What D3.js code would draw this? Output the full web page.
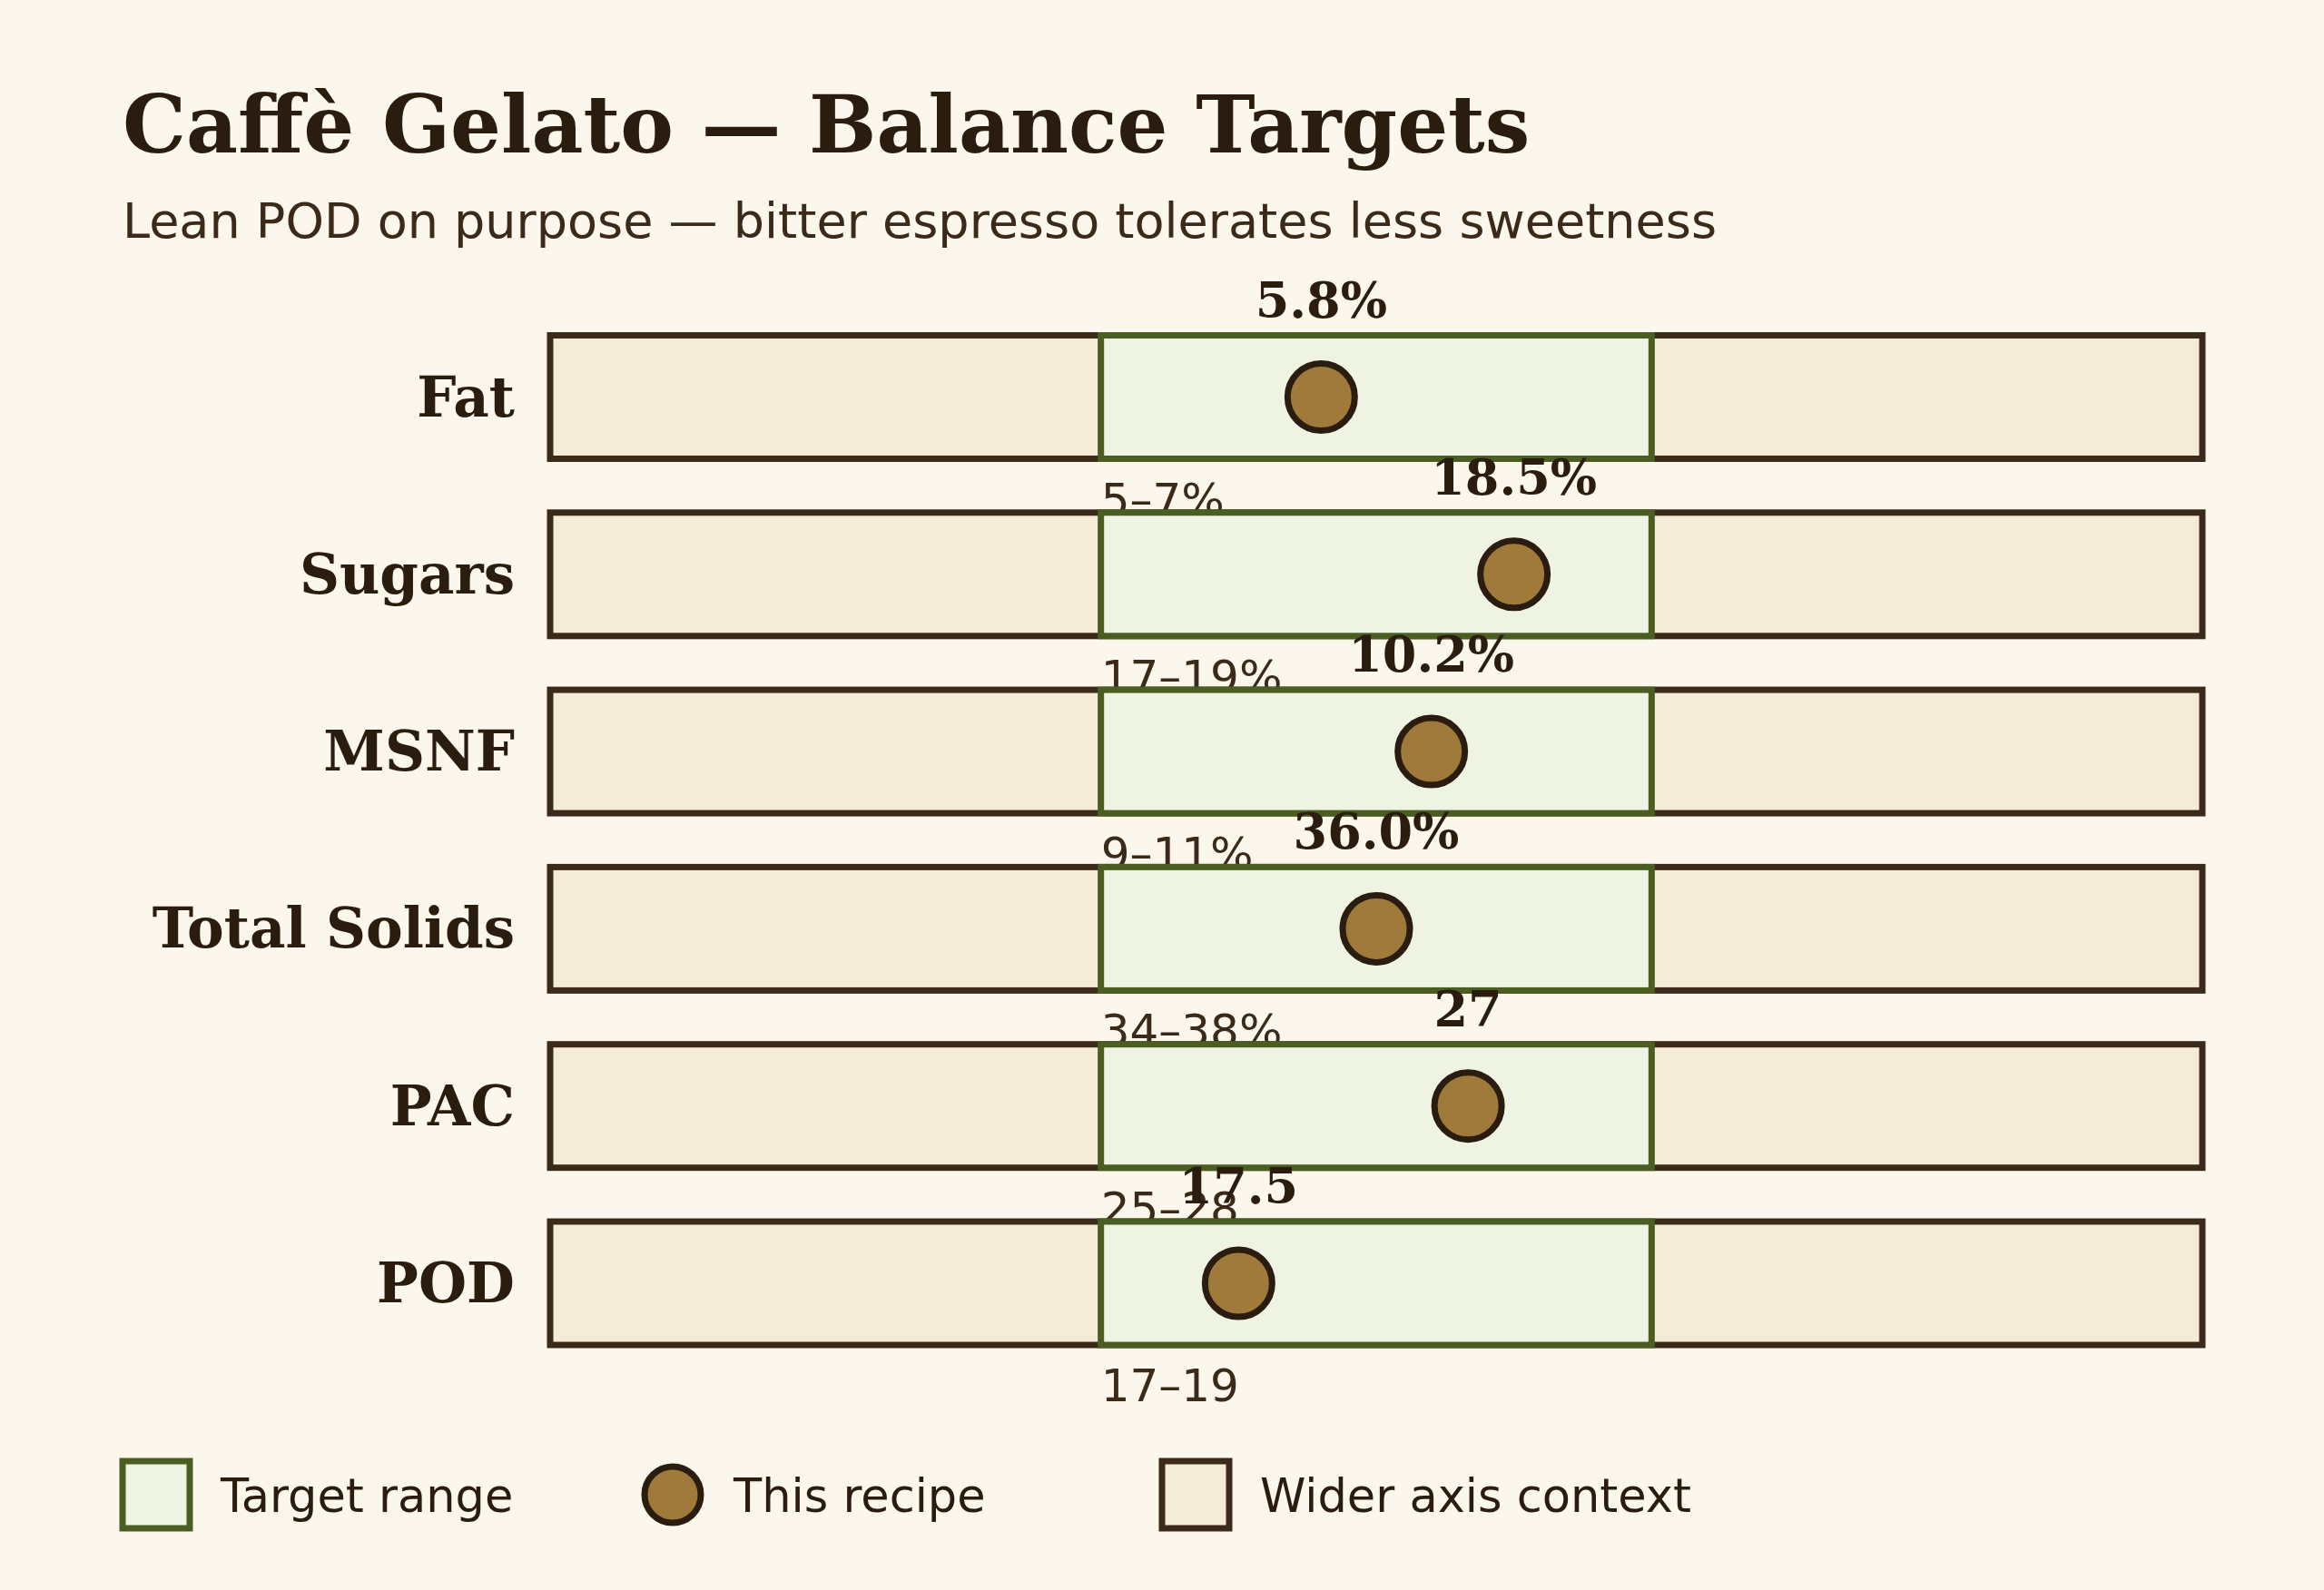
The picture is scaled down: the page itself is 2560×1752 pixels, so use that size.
<!DOCTYPE html>
<html>
<head>
<meta charset="utf-8">
<script src="https://cdn.jsdelivr.net/npm/d3@7"></script>
<style>
  html, body { margin: 0; padding: 0; background: #fbf7ec; }
  svg { display: block; }
</style>
</head>
<body>
<svg id="chart" width="2560" height="1752"></svg>
<script>
const categories = ["Fat", "Sugars", "MSNF", "Total Solids", "PAC", "POD"];
const values = [5.8, 18.5, 10.2, 36.0, 27, 17.5];
const valueLabels = ["5.8%", "18.5%", "10.2%", "36.0%", "27", "17.5"];
const targetLow = [5, 17, 9, 34, 25, 17];
const targetHigh = [7, 19, 11, 38, 28, 19];
const rangeLabels = ["5–7%", "17–19%", "9–11%", "34–38%", "25–28", "17–19"];
const axisMin = [3, 15, 7, 30, 22, 15];
const axisMax = [9, 21, 13, 42, 31, 21];
const legendLabels = ["Target range", "This recipe", "Wider axis context"];

const C = {
  bg: "#fbf7ec",
  track: "#f4ecd6",
  trackStroke: "#3b2a1a",
  target: "#eef3e3",
  targetStroke: "#4b5e22",
  dot: "#a07a3b",
  dotStroke: "#2a1d10",
  text: "#2a1d10",
  sub: "#3b2a1a"
};
const serif = "'DejaVu Serif', serif";
const sans = "'DejaVu Sans', sans-serif";

const svg = d3.select("#chart");
svg.append("rect").attr("width", 2560).attr("height", 1752).attr("fill", C.bg);

svg.append("text").attr("x", 135).attr("y", 168)
  .attr("font-family", serif).attr("font-weight", "bold").attr("font-size", 88)
  .attr("fill", C.text).text("Caffè Gelato — Balance Targets");
svg.append("text").attr("x", 135).attr("y", 262)
  .attr("font-family", sans).attr("font-size", 54)
  .attr("fill", C.sub).text("Lean POD on purpose — bitter espresso tolerates less sweetness");

const y = d3.scalePoint().domain(categories).range([437.5, 1414]);
const bandH = 136;
const x0 = 606, x1 = 2426;

const rows = categories.map((c, i) => ({
  cat: c, value: values[i], label: valueLabels[i], lo: targetLow[i], hi: targetHigh[i],
  range: rangeLabels[i],
  scale: d3.scaleLinear().domain([axisMin[i], axisMax[i]]).range([x0, x1])
}));

const g = svg.append("g");
const row = g.selectAll("g.row").data(rows).join("g").attr("class", "row")
  .attr("transform", d => `translate(0,${y(d.cat)})`);

row.append("rect")
  .attr("x", d => d.scale(d.scale.domain()[0]))
  .attr("width", d => d.scale(d.scale.domain()[1]) - d.scale(d.scale.domain()[0]))
  .attr("y", -bandH / 2).attr("height", bandH)
  .attr("fill", C.track).attr("stroke", C.trackStroke).attr("stroke-width", 7);

row.append("rect")
  .attr("x", d => d.scale(d.lo))
  .attr("width", d => d.scale(d.hi) - d.scale(d.lo))
  .attr("y", -bandH / 2).attr("height", bandH)
  .attr("fill", C.target).attr("stroke", C.targetStroke).attr("stroke-width", 7);

row.append("text")
  .attr("x", x0 - 39).attr("y", 21)
  .attr("text-anchor", "end")
  .attr("font-family", serif).attr("font-weight", "bold").attr("font-size", 61)
  .attr("fill", C.text).text(d => d.cat);

row.append("text")
  .attr("x", d => d.scale(d.lo)).attr("y", bandH / 2 + 62)
  .attr("font-family", sans).attr("font-size", 50)
  .attr("fill", C.sub).text(d => d.range);

row.append("circle")
  .attr("cx", d => d.scale(d.value)).attr("cy", 0).attr("r", 37)
  .attr("fill", C.dot).attr("stroke", C.dotStroke).attr("stroke-width", 7);

row.append("text")
  .attr("x", d => d.scale(d.value)).attr("y", -bandH / 2 - 20)
  .attr("text-anchor", "middle")
  .attr("font-family", serif).attr("font-weight", "bold").attr("font-size", 54)
  .attr("fill", C.text).text(d => d.label);

// Legend
const ly = 1647;
const leg = svg.append("g");
leg.append("rect").attr("x", 135).attr("y", ly - 37).attr("width", 74).attr("height", 74)
  .attr("fill", C.target).attr("stroke", C.targetStroke).attr("stroke-width", 7);
leg.append("text").attr("x", 243).attr("y", ly + 19)
  .attr("font-family", sans).attr("font-size", 51).attr("fill", C.text).text(legendLabels[0]);
leg.append("circle").attr("cx", 741).attr("cy", ly).attr("r", 31)
  .attr("fill", C.dot).attr("stroke", C.dotStroke).attr("stroke-width", 7);
leg.append("text").attr("x", 808).attr("y", ly + 19)
  .attr("font-family", sans).attr("font-size", 51).attr("fill", C.text).text(legendLabels[1]);
leg.append("rect").attr("x", 1280).attr("y", ly - 37).attr("width", 74).attr("height", 74)
  .attr("fill", C.track).attr("stroke", C.trackStroke).attr("stroke-width", 7);
leg.append("text").attr("x", 1388).attr("y", ly + 19)
  .attr("font-family", sans).attr("font-size", 51).attr("fill", C.text).text(legendLabels[2]);
</script>
</body>
</html>
